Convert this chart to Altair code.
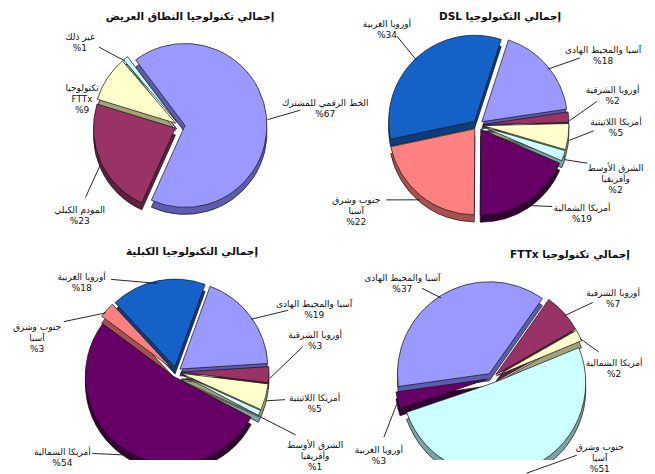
import math
import altair as alt
import pandas as pd

# ---------------- data ----------------
bb_title = "إجمالي تكنولوجيا النطاق العريض"
bb_cats = ["الخط الرقمي للمشترك", "المودم الكبلي", "تكنولوجيا\nFTTx", "غير ذلك"]
bb_vals = [67, 23, 9, 1]

dsl_title = "\u202bإجمالي التكنولوجيا DSL\u202c"
dsl_cats = ["آسيا والمحيط الهادى", "أوروبا الشرقية", "أمريكا اللاتينية",
            "الشرق الأوسط\nوأفريقيا", "أمريكا الشمالية", "جنوب وشرق\nآسيا", "أوروبا الغربية"]
dsl_vals = [18, 2, 5, 2, 19, 22, 34]

cable_title = "إجمالي التكنولوجيا الكبلية"
cable_cats = ["آسيا والمحيط الهادى", "أوروبا الشرقية", "أمريكا اللاتينية",
              "الشرق الأوسط\nوأفريقيا", "أمريكا الشمالية", "جنوب وشرق\nآسيا", "أوروبا الغربية"]
cable_vals = [19, 3, 5, 1, 54, 3, 18]

fttx_title = "\u202bإجمالي تكنولوجيا FTTx\u202c"
fttx_cats = ["آسيا والمحيط الهادى", "أوروبا الشرقية", "أمريكا الشمالية",
             "جنوب وشرق\nآسيا", "أوروبا الغربية"]
fttx_vals = [37, 7, 2, 51, 3]

# ---------------- styles / layout ----------------
LAV, LAV_D = "#9999ff", "#5c5cb0"
MAR, MAR_D = "#993366", "#5e1f3f"
CRM, CRM_D = "#ffffcc", "#a3a37a"
CYN, CYN_D = "#ccffff", "#7aa3a3"
PUR, PUR_D = "#660066", "#330033"
SAL, SAL_D = "#ff8080", "#a84f4f"
BLU, BLU_D = "#1462c8", "#0b3d80"

FONT = "DejaVu Sans"
W, H = 318, 226
EXPLODE = 5
DEPTH = 7

panels = [
    dict(title=bb_title, cats=bb_cats, vals=bb_vals,
         colors=[LAV, MAR, CRM, CYN], shades=[LAV_D, MAR_D, CRM_D, CYN_D],
         cx=172, cy=118, r=82, start=-37, tpos=(182, 9),
         labels=[(-2.6, 147), (-15.6, 131), (-12, 105), (-9.5, 134)]),
    dict(title=dsl_title, cats=dsl_cats, vals=dsl_vals,
         colors=[LAV, MAR, CRM, CYN, PUR, SAL, BLU],
         shades=[LAV_D, MAR_D, CRM_D, CYN_D, PUR_D, SAL_D, BLU_D],
         cx=152, cy=117, r=86, start=18, tpos=(174, 9),
         labels=[(9.2, 146), (-9.5, 139), (-8.6, 138), (-2.5, 144), (-18.3, 133), (19.2, 143), (0, 136)]),
    dict(title=cable_title, cats=cable_cats, vals=cable_vals,
         colors=[LAV, MAR, CRM, CYN, PUR, SAL, BLU],
         shades=[LAV_D, MAR_D, CRM_D, CYN_D, PUR_D, SAL_D, BLU_D],
         cx=168, cy=138, r=88, start=20, tpos=(184, 18),
         labels=[(10.6, 154), (-16.6, 144), (-5.1, 141), (1.5, 157), (22.6, 139), (-24, 146), (-33.3, 134)]),
    dict(title=fttx_title, cats=fttx_cats, vals=fttx_vals,
         colors=[LAV, MAR, CRM, CYN, PUR], shades=[LAV_D, MAR_D, CRM_D, CYN_D, PUR_D],
         cx=166, cy=144, r=92, start=262, tpos=(244, 21),
         labels=[(-10.6, 134), (7.1, 148), (19, 123), (-36.8, 128), (-19.1, 134)]),
]


def make_panel(p):
    cats, vals = p["cats"], p["vals"]
    total = sum(vals)
    s0 = math.radians(p["start"])
    cx, cy, r = p["cx"], p["cy"], p["r"]
    df = pd.DataFrame({
        "cat": cats,
        "value": vals,
        "idx": list(range(len(cats))),
        "color": p["colors"],
        "shade": p["shades"],
        "nudge": [n for n, _ in p["labels"]],
        "lr": [d for _, d in p["labels"]],
    })
    df["label"] = [f"{c}\n%{v}" for c, v in zip(cats, vals)]

    theta_scale = alt.Scale(domain=[0, total], range=[s0, s0 + 2 * math.pi])

    base = (
        alt.Chart(df)
        .transform_window(c1="sum(value)", sort=[alt.SortField("idx")], frame=[None, 0])
        .transform_calculate(c0="datum.c1 - datum.value")
        .transform_calculate(mid="(datum.c0 + datum.c1) / 2")
        .transform_calculate(ang=f"{s0} + 2 * PI * datum.mid / {total}")
        .transform_calculate(ox=f"{cx} + {EXPLODE} * sin(datum.ang)")
        .transform_calculate(oy=f"{cy} - {EXPLODE} * cos(datum.ang)")
        .transform_calculate(oyd=f"datum.oy + {DEPTH}")
        .transform_calculate(la="datum.ang + datum.nudge * PI / 180")
        .transform_calculate(lx=f"{cx} + datum.lr * sin(datum.la)")
        .transform_calculate(ly=f"{cy} - datum.lr * cos(datum.la)")
        .transform_calculate(sx=f"{cx} + {r + EXPLODE + 1} * sin(datum.ang)")
        .transform_calculate(sy=f"{cy} - {r + EXPLODE + 1} * cos(datum.ang) + {DEPTH / 2}")
        .transform_calculate(ddx="datum.lx - datum.sx", ddy="datum.ly - datum.sy")
        .transform_calculate(dd="sqrt(datum.ddx * datum.ddx + datum.ddy * datum.ddy)")
        .transform_calculate(gap="1 / sqrt(pow(datum.ddx / datum.dd / 30, 2) + pow(datum.ddy / datum.dd / 13, 2))")
        .transform_calculate(k="datum.dd > datum.gap + 3 ? (datum.dd - datum.gap) / datum.dd : 0")
        .transform_calculate(ex="datum.sx + datum.ddx * datum.k", ey="datum.sy + datum.ddy * datum.k")
    )

    shadow = base.mark_arc(radius=r, stroke="#111111", strokeWidth=0.7, clip=True).encode(
        theta=alt.Theta("c0:Q", scale=theta_scale),
        theta2=alt.Theta2("c1:Q"),
        x=alt.X("ox:Q", scale=None),
        y=alt.Y("oyd:Q", scale=None),
        color=alt.Color("shade:N", scale=None),
    )
    top = base.mark_arc(radius=r, stroke="#111111", strokeWidth=0.7, clip=True).encode(
        theta=alt.Theta("c0:Q", scale=theta_scale),
        theta2=alt.Theta2("c1:Q"),
        x=alt.X("ox:Q", scale=None),
        y=alt.Y("oy:Q", scale=None),
        color=alt.Color("color:N", scale=None),
        tooltip=[alt.Tooltip("cat:N"), alt.Tooltip("value:Q")],
    )
    leaders = base.mark_rule(color="#111111", strokeWidth=0.9).encode(
        x=alt.X("sx:Q", scale=None),
        y=alt.Y("sy:Q", scale=None),
        x2=alt.X2("ex:Q"),
        y2=alt.Y2("ey:Q"),
    )
    labels = base.mark_text(
        lineBreak="\n", align="center", baseline="middle",
        font=FONT, fontSize=9, color="#111111", lineHeight=11,
    ).encode(
        x=alt.X("lx:Q", scale=None),
        y=alt.Y("ly:Q", scale=None),
        text="label:N",
    )
    title = alt.Chart(pd.DataFrame({"t": [p["title"]]})).mark_text(
        font=FONT, fontSize=10.5, fontWeight="bold", color="#111111",
        align="center", baseline="middle",
    ).encode(
        text="t:N",
        x=alt.value(p["tpos"][0]),
        y=alt.value(p["tpos"][1]),
    )
    return alt.layer(shadow, top, leaders, labels, title).properties(width=W, height=H)


charts = [make_panel(p) for p in panels]
chart = alt.concat(
    *charts, columns=2, spacing=0, bounds="flush",
).properties(
    padding=0,
    background="white",
).configure_view(stroke=None)

chart.save("out.html", embed_options={"renderer": "svg", "actions": False})
